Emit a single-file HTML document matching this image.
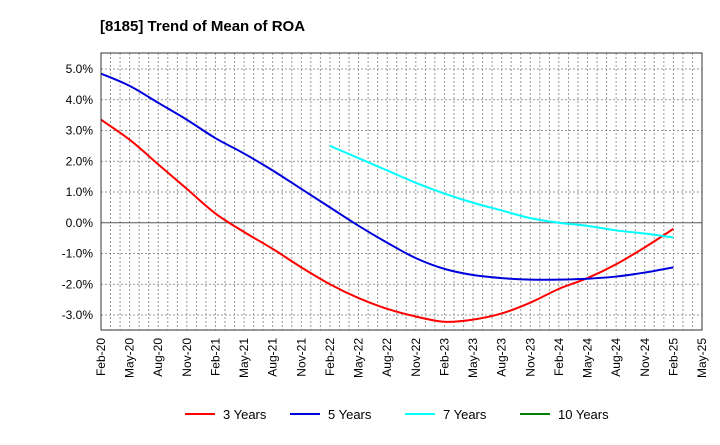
<!DOCTYPE html>
<html><head><meta charset="utf-8"><style>
body{margin:0;background:#fff;font-family:"Liberation Sans",Arial,sans-serif}
svg text{font-family:"Liberation Sans",Arial,sans-serif;fill:#000}
</style></head><body>
<svg id="c" width="720" height="440" xmlns="http://www.w3.org/2000/svg">
<text x="100" y="31" font-size="15" font-weight="bold">[8185]  Trend of Mean of ROA</text>
<g id="grid"></g><g id="series"></g><g id="axes"></g><g id="legend"></g>
</svg>
<script>
const xLabels=["Feb-20","May-20","Aug-20","Nov-20","Feb-21","May-21","Aug-21","Nov-21","Feb-22","May-22","Aug-22","Nov-22","Feb-23","May-23","Aug-23","Nov-23","Feb-24","May-24","Aug-24","Nov-24","Feb-25","May-25"];
const yTicks=[5,4,3,2,1,0,-1,-2,-3];
const s3=[3.35,2.7,1.9,1.1,0.3,-0.3,-0.85,-1.45,-2.0,-2.45,-2.8,-3.05,-3.22,-3.15,-2.95,-2.6,-2.15,-1.8,-1.35,-0.8,-0.2];
const s5=[4.85,4.45,3.9,3.35,2.75,2.25,1.7,1.1,0.5,-0.1,-0.65,-1.15,-1.5,-1.7,-1.8,-1.85,-1.85,-1.82,-1.75,-1.62,-1.45];
const s7=[2.5,2.1,1.7,1.3,0.95,0.65,0.4,0.15,0.0,-0.1,-0.25,-0.35,-0.48];
const s7Start=8;
const s10=[];
const names=["3 Years","5 Years","7 Years","10 Years"];
const colors=["#ff0000","#0000dd","#00ffff","#008000"];
const L=101,R=702,T=53,B=330;
const x=q=>L+q*(R-L)/21;
const y=v=>222.75-v*30.75;
const NS="http://www.w3.org/2000/svg";
function mk(p,t,a){const e=document.createElementNS(NS,t);for(const k in a)e.setAttribute(k,a[k]);p.appendChild(e);return e;}
const g=document.getElementById('grid'),ax=document.getElementById('axes'),sg=document.getElementById('series'),lg=document.getElementById('legend');
for(let m=1;m<63;m++){const xx=L+m*(R-L)/63;const l=mk(g,'line',{x1:xx,x2:xx,y1:T,y2:B,stroke:'#999','stroke-dasharray':'2,2','stroke-width':1});

}
yTicks.forEach(v=>{const l=mk(g,'line',{x1:L,x2:R,y1:y(v),y2:y(v),stroke:v===0?'#555':'#999','stroke-dasharray':v===0?'':'2,2','stroke-width':1});


const t=mk(ax,'text',{x:L-8,y:y(v)+4,'text-anchor':'end','font-size':12});t.textContent=v.toFixed(1)+'%';

});
const fr=mk(ax,'rect',{x:L,y:T,width:R-L,height:B-T,fill:'none',stroke:'#333'});


xLabels.forEach((s,i)=>{const xx=x(i);const t=mk(ax,'text',{x:0,y:0,'text-anchor':'end','font-size':12,transform:`translate(${xx+4},${B+8}) rotate(-90)`});t.textContent=s;

});
function path(vals,start){const p=vals.map((v,i)=>[x(start+i),y(v)]);if(p.length<2)return '';let d=`M${p[0][0]},${p[0][1]}`;
for(let i=0;i<p.length-1;i++){const p0=p[i-1]||p[i],p1=p[i],p2=p[i+1],p3=p[i+2]||p2;
d+=` C${p1[0]+(p2[0]-p0[0])/6},${p1[1]+(p2[1]-p0[1])/6} ${p2[0]-(p3[0]-p1[0])/6},${p2[1]-(p3[1]-p1[1])/6} ${p2[0]},${p2[1]}`;}return d;}
[[s3,0],[s5,0],[s7,s7Start],[s10,0]].forEach(([v,st],i)=>{if(!v.length)return;const e=mk(sg,'path',{d:path(v,st),fill:'none',stroke:colors[i],'stroke-width':2});

});
const lx=[185,290,405,520];
names.forEach((n,i)=>{const l=mk(lg,'line',{x1:lx[i],x2:lx[i]+30,y1:414,y2:414,stroke:colors[i],'stroke-width':2});


const t=mk(lg,'text',{x:lx[i]+38,y:419,'font-size':13});t.textContent=n;

});
</script>
</body></html>
